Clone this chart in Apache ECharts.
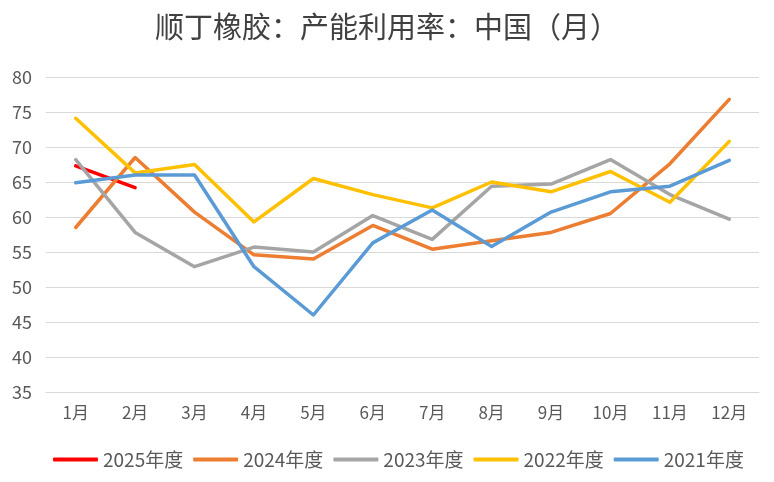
<!DOCTYPE html>
<html>
<head>
<meta charset="utf-8">
<script src="https://cdn.jsdelivr.net/npm/echarts@6/dist/echarts.min.js"></script>
<style>
html,body{margin:0;padding:0;background:#fff;}
#c{width:774px;height:482px;}
</style>
</head>
<body>
<div id="c"></div>
<script>
const months = ['1月','2月','3月','4月','5月','6月','7月','8月','9月','10月','11月','12月'];
const y2025 = [67.3, 64.2];
const y2024 = [58.5, 68.5, 60.7, 54.6, 54.0, 58.8, 55.4, 56.6, 57.8, 60.5, 67.6, 76.8];
const y2023 = [68.2, 57.8, 52.9, 55.7, 55.0, 60.2, 56.8, 64.4, 64.7, 68.2, 63.2, 59.7];
const y2022 = [74.1, 66.3, 67.5, 59.3, 65.5, 63.2, 61.3, 65.0, 63.6, 66.5, 62.1, 70.8];
const y2021 = [64.9, 66.0, 66.0, 52.9, 46.0, 56.3, 61.0, 55.8, 60.7, 63.6, 64.4, 68.1];
const seriesNames = ['2025年度','2024年度','2023年度','2022年度','2021年度'];
const colors = ['#FF0000','#ED7D31','#A5A5A5','#FFC000','#5B9BD5'];
const yMin = 35, yMax = 80, yStep = 5;

const font = '"Noto Sans CJK SC", "Noto Sans", sans-serif';
const dataSets = [y2025, y2024, y2023, y2022, y2021];

const chart = echarts.init(document.getElementById('c'));
chart.setOption({
  animation: false,
  backgroundColor: '#ffffff',
  color: colors,
  title: {
    text: '顺丁橡胶：产能利用率：中国（月）',
    left: 'center',
    top: 7,
    textStyle: {fontFamily: font, fontSize: 29, fontWeight: 'normal', color: '#404040'}
  },
  legend: {
    bottom: 8,
    left: 48,
    icon: 'roundRect',
    itemWidth: 45,
    itemHeight: 4,
    itemGap: 10,
    textStyle: {fontFamily: font, fontSize: 19, color: '#595959'},
    data: seriesNames
  },
  grid: {left: 46, right: 15, top: 77, bottom: 90},
  xAxis: {
    type: 'category',
    data: months,
    boundaryGap: true,
    axisLine: {show: true, lineStyle: {color: '#D9D9D9', width: 1}},
    axisTick: {show: false},
    axisLabel: {fontFamily: font, fontSize: 17, color: '#595959', margin: 12}
  },
  yAxis: {
    type: 'value',
    min: yMin, max: yMax, interval: yStep,
    axisLine: {show: false},
    axisTick: {show: false},
    splitLine: {lineStyle: {color: '#D9D9D9', width: 1}},
    axisLabel: {fontFamily: font, fontSize: 18, color: '#595959', margin: 14}
  },
  series: seriesNames.map((n, i) => ({
    name: n,
    type: 'line',
    data: dataSets[i],
    symbol: 'none',
    smooth: false,
    lineStyle: {width: 3.5, color: colors[i], cap: 'round', join: 'round'},
    itemStyle: {color: colors[i]}
  }))
});
</script>
</body>
</html>
